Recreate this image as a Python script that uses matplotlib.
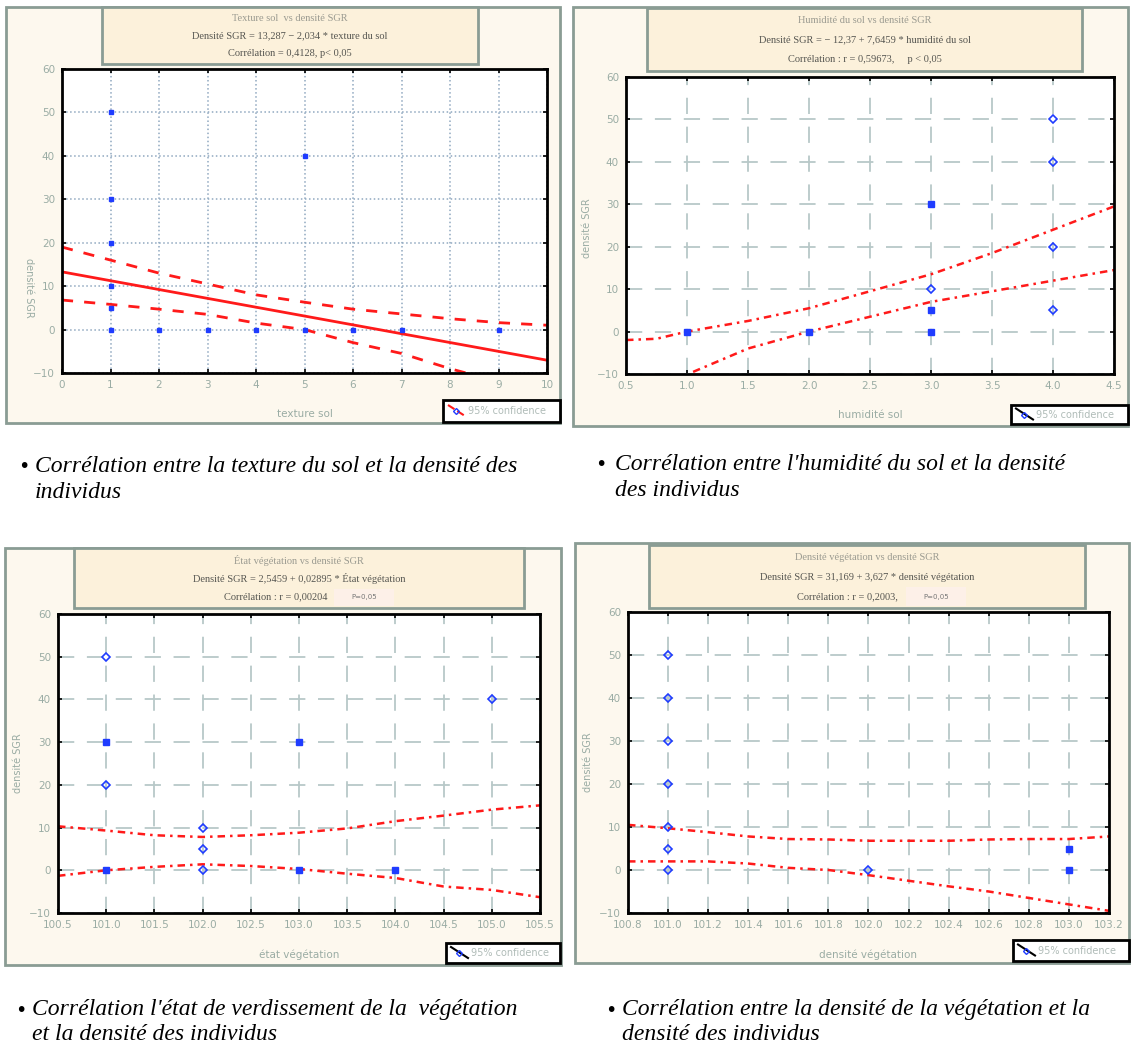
import numpy as np
import matplotlib
matplotlib.use("Agg")
import matplotlib.pyplot as plt
from matplotlib.patches import Rectangle
from matplotlib.lines import Line2D

W, H = 1131, 1046

# ---- data ----
# texture du sol
tex_x_sq = [1, 1, 1, 1, 1, 1, 2, 3, 4, 5, 5, 6, 7, 9]
tex_y_sq = [50, 30, 20, 10, 5, 0, 0, 0, 0, 40, 0, 0, 0, 0]
tex_fit = (13.287, -2.034)
tex_band_x = [0, 1, 2, 3, 4, 5, 6, 7, 8, 9, 10]
tex_up = [19, 16, 13, 10.5, 8, 6.3, 4.7, 3.6, 2.5, 1.6, 1.0]
tex_lo = [6.8, 5.8, 4.7, 3.5, 1.5, 0, -3, -5.5, -9, -12, -15]

# humidite du sol
hum_x_sq = [1, 2, 3, 3, 3]
hum_y_sq = [0, 0, 30, 5, 0]
hum_x_di = [4, 4, 4, 4, 3]
hum_y_di = [50, 40, 20, 5, 10]
hum_band_x = [0.5, 0.75, 1.0, 1.5, 2.0, 2.5, 3.0, 3.5, 4.0, 4.5]
hum_up = [-2, -1.7, 0, 2.5, 5.5, 9.5, 13.5, 18.5, 24, 29.5]
hum_lo_x = [1.05, 1.5, 2.0, 2.5, 3.0, 3.5, 4.0, 4.5]
hum_lo = [-9.5, -4, 0, 3.5, 7, 9.5, 12, 14.5]

# etat vegetation
eta_x_sq = [101, 101, 103, 103, 104]
eta_y_sq = [30, 0, 30, 0, 0]
eta_x_di = [101, 101, 102, 102, 102, 105]
eta_y_di = [50, 20, 10, 5, 0, 40]
eta_band_x = [100.5, 101, 101.5, 102, 102.5, 103, 103.5, 104, 104.5, 105, 105.5]
eta_up = [10.3, 9.3, 8.2, 7.8, 8.2, 8.8, 9.8, 11.5, 12.8, 14.2, 15.2]
eta_lo = [-1.3, 0, 0.8, 1.4, 1.0, 0.3, -0.8, -1.8, -3.8, -4.6, -6.3]

# densite vegetation
den_x_sq = [103, 103]
den_y_sq = [5, 0]
den_x_di = [101, 101, 101, 101, 101, 101, 101, 102]
den_y_di = [50, 40, 30, 20, 10, 5, 0, 0]
den_band_x = [100.8, 101.0, 101.2, 101.4, 101.6, 101.8, 102.0, 102.2, 102.4, 102.6, 102.8, 103.0, 103.2]
den_up = [10.5, 9.7, 8.8, 7.8, 7.2, 7.1, 6.8, 6.8, 6.8, 7.1, 7.2, 7.2, 7.8]
den_lo = [2, 2, 2, 1.5, 0.5, 0, -1.2, -2.5, -3.8, -5, -6.5, -8, -9.5]

titles = [
    ["Texture sol  vs densité SGR",
     "Densité SGR = 13,287 − 2,034 * texture du sol",
     "Corrélation = 0,4128, p< 0,05"],
    ["Humidité du sol vs densité SGR",
     "Densité SGR = − 12,37 + 7,6459 * humidité du sol",
     "Corrélation : r = 0,59673,     p < 0,05"],
    ["État végétation vs densité SGR",
     "Densité SGR = 2,5459 + 0,02895 * État végétation",
     "Corrélation : r = 0,00204"],
    ["Densité végétation vs densité SGR",
     "Densité SGR = 31,169 + 3,627 * densité végétation",
     "Corrélation : r = 0,2003,"],
]
xlabels = ["texture sol", "humidité sol", "état végétation", "densité végétation"]
captions = [
    ["Corrélation entre la texture du sol et la densité des", "individus"],
    ["Corrélation entre l'humidité du sol et la densité", "des individus"],
    ["Corrélation l'état de verdissement de la  végétation", "et la densité des individus"],
    ["Corrélation entre la densité de la végétation et la", "densité des individus"],
]

# ---- layout (pixels, top-left origin) ----
frames = [(6, 7, 560, 423), (573, 7, 1128, 426), (5, 548, 561, 965), (575, 543, 1129, 963)]
headers = [(102, 7, 478, 64), (647, 8, 1082, 71), (74, 548, 524, 608), (649, 545, 1085, 608)]
axboxes = [(62, 69, 547, 373), (626, 77, 1114, 374), (58, 614, 540, 913), (628, 612, 1109, 913)]
legboxes = [(443, 400, 560, 422), (1011, 405, 1128, 424), (446, 943, 560, 963), (1013, 940, 1129, 961)]
capxy = [(18, 35, 467), (595, 615, 465), (15, 32, 1010), (605, 622, 1010)]
ylab_pos = [(-0.068, 0.28), (-0.08, 0.49), (-0.083, 0.5), (-0.083, 0.5)]
# line-3 anchor (x, ha) and pink p boxes for the lower panels
line3 = [(None, "center"), (None, "center"), (328, "right"), (898, "right")]
pboxes = [((334, 589, 394, 606), "P=0,05"), ((906, 587, 966, 606), "P=0,05")]

GREEN = "#9aaca4"
FRAME = "#8a9c94"
CREAM = "#fdf8ee"
HEAD = "#fcf1db"
BLUE = "#1f3cff"
RED = "#ff1a1a"

fig = plt.figure(figsize=(W / 100, H / 100), dpi=100)


def fr(b):
    x0, y0, x1, y1 = b
    return [x0 / W, 1 - y1 / H, (x1 - x0) / W, (y1 - y0) / H]


def rect(b, fc, ec, lw, z=-2):
    l, bt, w, h = fr(b)
    fig.patches.append(Rectangle((l, bt), w, h, transform=fig.transFigure,
                                 facecolor=fc, edgecolor=ec, linewidth=lw, zorder=z))


for i in range(4):
    rect(frames[i], CREAM, FRAME, 2.0, -3)
    rect(headers[i], HEAD, FRAME, 2.0)
    hx0, hy0, hx1, hy1 = headers[i]
    cx = (hx0 + hx1) / 2 / W
    for k, t in enumerate(titles[i]):
        yy = hy0 + (hy1 - hy0) * (0.2 + 0.31 * k)
        x, ha = cx, "center"
        if k == 2 and line3[i][0] is not None:
            x, ha = line3[i][0] / W, line3[i][1]
        fig.text(x, 1 - yy / H, t, ha=ha, va="center", fontsize=7.5,
                 family="Liberation Serif", color="#9a9a90" if k == 0 else "#555550")
    # legend box
    rect(legboxes[i], "white", "black", 2.0)
    lx0, ly0, lx1, ly1 = legboxes[i]
    ym = 1 - (ly0 + ly1) / 2 / H
    fig.lines.append(Line2D([(lx0 + 5) / W, (lx0 + 22) / W], [ym + 6 / H, ym - 5 / H],
                            transform=fig.transFigure, color=RED if i == 0 else "black",
                            lw=1.5, ls="--" if i == 0 else "-"))
    fig.lines.append(Line2D([(lx0 + 13) / W], [ym], transform=fig.transFigure,
                            marker="D", ms=3, color=BLUE, mfc="none"))
    fig.text((lx0 + 25) / W, ym, "95% confidence", fontsize=7, color="#b0bcb8",
             va="center", ha="left")
    # caption
    bx, tx, ty = capxy[i]
    fig.text(bx / W, 1 - ty / H, "•", fontsize=14, va="center", ha="left")
    for k, c in enumerate(captions[i]):
        fig.text(tx / W, 1 - (ty + 25 * k) / H, c, fontsize=17, style="italic",
                 family="Liberation Serif", va="center", ha="left")

for b, t in pboxes:
    rect(b, "#fdf0e8", "none", 0, -1)
    fig.text((b[0] + b[2]) / 2 / W, 1 - (b[1] + b[3]) / 2 / H, t, fontsize=5,
             color="#777", ha="center", va="center")

panels = [
    dict(xlim=(0, 10), xt=np.arange(0, 11, 1), fmt="{:.0f}", grid=":"),
    dict(xlim=(0.5, 4.5), xt=np.arange(0.5, 4.51, 0.5), fmt="{:.1f}", grid="dash"),
    dict(xlim=(100.5, 105.5), xt=np.arange(100.5, 105.51, 0.5), fmt="{:.1f}", grid="dash"),
    dict(xlim=(100.8, 103.2), xt=np.arange(100.8, 103.21, 0.2), fmt="{:.1f}", grid="dash"),
]

axes = []
for i, p in enumerate(panels):
    ax = fig.add_axes(fr(axboxes[i]))
    ax.set_xlim(*p["xlim"])
    ax.set_ylim(-10, 60)
    ax.set_xticks(p["xt"])
    ax.set_xticklabels([p["fmt"].format(v) for v in p["xt"]])
    ax.set_yticks(np.arange(-10, 61, 10))
    ax.tick_params(labelsize=7.5, labelcolor=GREEN, length=3, width=1.2, direction="in",
                   top=True, right=True, pad=5)
    for s in ax.spines.values():
        s.set_linewidth(2.0)
    if p["grid"] == ":":
        ax.grid(True, ls=":", color="#90a8c0", lw=1.1)
    else:
        ax.grid(True, ls=(0, (9, 7)), color="#b8c8c8", lw=1.3)
    ax.set_axisbelow(True)
    ax.set_xlabel(xlabels[i], fontsize=7.5, color=GREEN, labelpad=14)
    ax.set_ylabel("densité SGR", fontsize=7, color=GREEN, rotation=270 if i == 0 else 90,
                  va="center", ha="center")
    ax.yaxis.set_label_coords(*ylab_pos[i])
    axes.append(ax)

# panel 1 : texture
ax = axes[0]
xx = np.linspace(0, 10, 50)
ax.plot(xx, tex_fit[0] + tex_fit[1] * xx, color=RED, lw=2.0)
ax.plot(tex_band_x, tex_up, color=RED, lw=2.0, ls=(0, (4, 4)))
ax.plot(tex_band_x, tex_lo, color=RED, lw=2.0, ls=(0, (4, 4)))
ax.plot(tex_x_sq, tex_y_sq, ls="none", marker="s", ms=2.5, color=BLUE)

# panel 2 : humidite
ax = axes[1]
ax.plot(hum_band_x, hum_up, color=RED, lw=1.8, ls=(0, (3, 2, 1, 2)))
ax.plot(hum_lo_x, hum_lo, color=RED, lw=1.8, ls=(0, (3, 2, 1, 2)))
ax.plot(hum_x_sq, hum_y_sq, ls="none", marker="s", ms=4, color=BLUE)
ax.plot(hum_x_di, hum_y_di, ls="none", marker="D", ms=4, color=BLUE, mfc="none", mew=1.2)

# panel 3 : etat vegetation
ax = axes[2]
ax.plot(eta_band_x, eta_up, color=RED, lw=1.8, ls=(0, (3, 2, 1, 2)))
ax.plot(eta_band_x, eta_lo, color=RED, lw=1.8, ls=(0, (3, 2, 1, 2)))
ax.plot(eta_x_sq, eta_y_sq, ls="none", marker="s", ms=4, color=BLUE)
ax.plot(eta_x_di, eta_y_di, ls="none", marker="D", ms=4, color=BLUE, mfc="none", mew=1.2)

# panel 4 : densite vegetation
ax = axes[3]
ax.plot(den_band_x, den_up, color=RED, lw=1.8, ls=(0, (3, 2, 1, 2)))
ax.plot(den_band_x, den_lo, color=RED, lw=1.8, ls=(0, (3, 2, 1, 2)))
ax.plot(den_x_sq, den_y_sq, ls="none", marker="s", ms=4, color=BLUE)
ax.plot(den_x_di, den_y_di, ls="none", marker="D", ms=4, color=BLUE, mfc="none", mew=1.2)

fig.savefig("out.png", dpi=100, facecolor="white")
